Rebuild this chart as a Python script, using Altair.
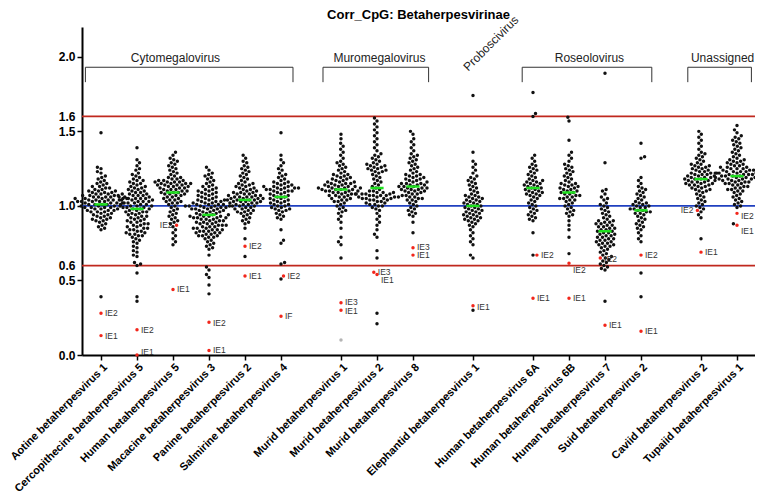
import math
import altair as alt
import pandas as pd

# ---------------- data ----------------
categories = [
    "Aotine betaherpesvirus 1", "Cercopithecine betaherpesvirus 5", "Human betaherpesvirus 5",
    "Macacine betaherpesvirus 3", "Panine betaherpesvirus 2", "Salmirine betaherpesvirus 4",
    "Murid betaherpesvirus 1", "Murid betaherpesvirus 2", "Murid betaherpesvirus 8",
    "Elephantid betaherpesvirus 1",
    "Human betaherpesvirus 6A", "Human betaherpesvirus 6B", "Human betaherpesvirus 7", "Suid betaherpesvirus 2",
    "Caviid betaherpesvirus 2", "Tupaiid betaherpesvirus 1",
]
group_of = [0, 0, 0, 0, 0, 0, 1, 1, 1, 2, 3, 3, 3, 3, 4, 4]
medians = [1.01, 0.98, 1.09, 0.94, 1.04, 1.06, 1.11, 1.12, 1.13, 1.00, 1.12, 1.09, 0.83, 0.97, 1.18, 1.20]

aotine_1 = [1.49, 1.26, 1.25, 1.23, 1.22, 1.20, 1.19, 1.18, 1.17, 1.16, 1.15, 1.15, 1.14, 1.13, 1.13, 1.12, 1.12,
            1.11, 1.11, 1.10, 1.10, 1.10, 1.09, 1.09, 1.09, 1.08, 1.08, 1.08, 1.07, 1.07, 1.07, 1.07, 1.06, 1.06,
            1.06, 1.06, 1.05, 1.05, 1.05, 1.05, 1.05, 1.04, 1.04, 1.04, 1.04, 1.04, 1.03, 1.03, 1.03, 1.03, 1.03,
            1.02, 1.02, 1.02, 1.02, 1.01, 1.01, 1.01, 1.01, 1.00, 1.00, 1.00, 1.00, 0.99, 0.99, 0.99, 0.99, 0.98,
            0.98, 0.98, 0.97, 0.97, 0.97, 0.96, 0.96, 0.96, 0.95, 0.95, 0.94, 0.94, 0.93, 0.93, 0.92, 0.92, 0.91,
            0.91, 0.90, 0.90, 0.89, 0.88, 0.87, 0.86, 0.85, 0.84, 0.39]
cercopithecine_5 = [1.39, 1.31, 1.29, 1.27, 1.25, 1.24, 1.22, 1.21, 1.20, 1.19, 1.18, 1.17, 1.17, 1.16, 1.15, 1.15,
                    1.14, 1.13, 1.13, 1.12, 1.12, 1.11, 1.11, 1.10, 1.10, 1.09, 1.09, 1.08, 1.08, 1.08, 1.07, 1.07,
                    1.07, 1.06, 1.06, 1.06, 1.05, 1.05, 1.05, 1.05, 1.04, 1.04, 1.04, 1.03, 1.03, 1.03, 1.02, 1.02,
                    1.02, 1.01, 1.01, 1.01, 1.00, 1.00, 1.00, 0.99, 0.99, 0.99, 0.98, 0.98, 0.98, 0.97, 0.97, 0.96,
                    0.96, 0.96, 0.95, 0.95, 0.94, 0.94, 0.93, 0.93, 0.92, 0.92, 0.91, 0.91, 0.90, 0.90, 0.89, 0.89,
                    0.88, 0.88, 0.87, 0.87, 0.86, 0.86, 0.85, 0.85, 0.84, 0.84, 0.83, 0.83, 0.82, 0.82, 0.81, 0.81,
                    0.80, 0.80, 0.79, 0.78, 0.77, 0.76, 0.75, 0.73, 0.72, 0.70, 0.69, 0.67, 0.66, 0.62, 0.61, 0.60,
                    0.55, 0.39, 0.36]
human_5 = [1.36, 1.34, 1.32, 1.31, 1.30, 1.29, 1.28, 1.27, 1.26, 1.25, 1.24, 1.23, 1.22, 1.21, 1.20, 1.19, 1.19,
           1.18, 1.18, 1.17, 1.17, 1.17, 1.16, 1.16, 1.16, 1.16, 1.15, 1.15, 1.15, 1.15, 1.14, 1.14, 1.14, 1.14,
           1.13, 1.13, 1.13, 1.12, 1.12, 1.12, 1.11, 1.11, 1.11, 1.10, 1.10, 1.10, 1.09, 1.09, 1.09, 1.08, 1.08,
           1.08, 1.07, 1.07, 1.06, 1.06, 1.05, 1.05, 1.04, 1.04, 1.03, 1.03, 1.02, 1.02, 1.01, 1.00, 0.99, 0.98,
           0.97, 0.96, 0.95, 0.94, 0.93, 0.92, 0.91, 0.90, 0.89, 0.88, 0.86, 0.84, 0.82, 0.80, 0.78, 0.76, 0.74]
macacine_3 = [1.26, 1.24, 1.22, 1.21, 1.20, 1.19, 1.18, 1.17, 1.16, 1.15, 1.14, 1.13, 1.13, 1.12, 1.11, 1.11, 1.10,
              1.10, 1.09, 1.09, 1.08, 1.08, 1.07, 1.07, 1.06, 1.06, 1.05, 1.05, 1.04, 1.04, 1.04, 1.03, 1.03, 1.03,
              1.02, 1.02, 1.02, 1.01, 1.01, 1.01, 1.01, 1.00, 1.00, 1.00, 1.00, 1.00, 0.99, 0.99, 0.99, 0.99, 0.98,
              0.98, 0.98, 0.98, 0.97, 0.97, 0.97, 0.96, 0.96, 0.96, 0.95, 0.95, 0.95, 0.94, 0.94, 0.94, 0.93, 0.93,
              0.93, 0.93, 0.92, 0.92, 0.92, 0.92, 0.91, 0.91, 0.91, 0.90, 0.90, 0.90, 0.89, 0.89, 0.89, 0.88, 0.88,
              0.88, 0.87, 0.87, 0.87, 0.86, 0.86, 0.86, 0.85, 0.85, 0.85, 0.84, 0.84, 0.84, 0.83, 0.83, 0.83, 0.82,
              0.82, 0.82, 0.81, 0.81, 0.80, 0.80, 0.80, 0.79, 0.79, 0.78, 0.77, 0.76, 0.75, 0.74, 0.73, 0.72, 0.71,
              0.67, 0.59, 0.57, 0.54, 0.52, 0.47, 0.41]
panine_2 = [1.34, 1.32, 1.30, 1.29, 1.27, 1.26, 1.25, 1.24, 1.23, 1.22, 1.21, 1.20, 1.19, 1.18, 1.17, 1.16, 1.15,
            1.15, 1.14, 1.14, 1.13, 1.13, 1.12, 1.12, 1.11, 1.11, 1.10, 1.10, 1.09, 1.09, 1.09, 1.08, 1.08, 1.08,
            1.07, 1.07, 1.07, 1.06, 1.06, 1.06, 1.06, 1.05, 1.05, 1.05, 1.05, 1.04, 1.04, 1.04, 1.04, 1.03, 1.03,
            1.03, 1.03, 1.02, 1.02, 1.02, 1.01, 1.01, 1.01, 1.00, 1.00, 1.00, 0.99, 0.99, 0.98, 0.98, 0.97, 0.97,
            0.96, 0.96, 0.95, 0.95, 0.94, 0.93, 0.92, 0.91, 0.90, 0.89, 0.88, 0.85, 0.78, 0.66]
salmirine_4 = [1.49, 1.34, 1.31, 1.29, 1.27, 1.25, 1.24, 1.22, 1.21, 1.20, 1.19, 1.18, 1.17, 1.16, 1.16, 1.15, 1.15,
               1.14, 1.14, 1.13, 1.13, 1.13, 1.12, 1.12, 1.12, 1.12, 1.11, 1.11, 1.11, 1.10, 1.10, 1.10, 1.09, 1.09,
               1.08, 1.08, 1.07, 1.07, 1.06, 1.06, 1.05, 1.05, 1.04, 1.04, 1.03, 1.03, 1.02, 1.02, 1.01, 1.01, 1.00,
               1.00, 0.99, 0.99, 0.98, 0.98, 0.97, 0.97, 0.96, 0.95, 0.94, 0.93, 0.92, 0.91, 0.84, 0.77, 0.75, 0.62,
               0.61, 0.51]
murid_1 = [1.48, 1.45, 1.42, 1.40, 1.38, 1.36, 1.34, 1.32, 1.30, 1.29, 1.28, 1.27, 1.26, 1.25, 1.24, 1.23, 1.22,
           1.21, 1.21, 1.20, 1.20, 1.19, 1.19, 1.18, 1.18, 1.17, 1.17, 1.16, 1.16, 1.16, 1.15, 1.15, 1.15, 1.14,
           1.14, 1.14, 1.13, 1.13, 1.13, 1.13, 1.12, 1.12, 1.12, 1.12, 1.11, 1.11, 1.11, 1.11, 1.10, 1.10, 1.10,
           1.10, 1.09, 1.09, 1.09, 1.08, 1.08, 1.08, 1.07, 1.07, 1.07, 1.06, 1.06, 1.05, 1.05, 1.04, 1.04, 1.03,
           1.03, 1.02, 1.01, 1.00, 0.99, 0.98, 0.97, 0.96, 0.95, 0.93, 0.91, 0.89, 0.85, 0.79, 0.76, 0.74, 0.65]
murid_2 = [1.59, 1.57, 1.55, 1.53, 1.51, 1.49, 1.47, 1.45, 1.43, 1.41, 1.39, 1.37, 1.35, 1.34, 1.33, 1.32, 1.31,
           1.30, 1.29, 1.28, 1.28, 1.27, 1.27, 1.26, 1.26, 1.25, 1.25, 1.24, 1.24, 1.23, 1.23, 1.22, 1.21, 1.20,
           1.19, 1.18, 1.17, 1.16, 1.15, 1.14, 1.13, 1.12, 1.11, 1.10, 1.10, 1.09, 1.09, 1.09, 1.08, 1.08, 1.08,
           1.08, 1.07, 1.07, 1.07, 1.07, 1.06, 1.06, 1.06, 1.06, 1.05, 1.05, 1.05, 1.05, 1.04, 1.04, 1.04, 1.03,
           1.03, 1.02, 1.02, 1.01, 1.01, 1.00, 1.00, 0.99, 0.98, 0.97, 0.95, 0.93, 0.91, 0.89, 0.87, 0.84, 0.81,
           0.79, 0.70, 0.65, 0.28, 0.21]
murid_8 = [1.50, 1.48, 1.45, 1.43, 1.41, 1.39, 1.37, 1.35, 1.34, 1.33, 1.32, 1.31, 1.30, 1.29, 1.28, 1.27, 1.26,
           1.25, 1.24, 1.23, 1.22, 1.21, 1.21, 1.20, 1.20, 1.19, 1.19, 1.18, 1.18, 1.17, 1.17, 1.16, 1.16, 1.15,
           1.15, 1.15, 1.14, 1.14, 1.14, 1.13, 1.13, 1.13, 1.12, 1.12, 1.12, 1.11, 1.11, 1.11, 1.10, 1.10, 1.10,
           1.09, 1.09, 1.08, 1.08, 1.07, 1.07, 1.06, 1.06, 1.05, 1.05, 1.04, 1.04, 1.03, 1.02, 1.01, 1.00, 0.99,
           0.98, 0.97, 0.96, 0.95, 0.94, 0.93, 0.89, 0.82]
elephantid_1 = [1.74, 1.36, 1.30, 1.28, 1.26, 1.24, 1.22, 1.20, 1.19, 1.18, 1.17, 1.16, 1.15, 1.14, 1.13, 1.12, 1.11,
                1.10, 1.09, 1.08, 1.07, 1.07, 1.06, 1.06, 1.05, 1.05, 1.04, 1.04, 1.03, 1.03, 1.02, 1.02, 1.01,
                1.01, 1.00, 1.00, 0.99, 0.99, 0.98, 0.98, 0.97, 0.97, 0.96, 0.96, 0.95, 0.95, 0.94, 0.94, 0.93,
                0.93, 0.92, 0.92, 0.91, 0.91, 0.90, 0.90, 0.89, 0.88, 0.87, 0.86, 0.84, 0.82, 0.80, 0.78, 0.76,
                0.74, 0.67, 0.65, 0.30]
human_6a = [1.76, 1.62, 1.60, 1.34, 1.32, 1.30, 1.28, 1.27, 1.26, 1.25, 1.24, 1.23, 1.22, 1.21, 1.20, 1.19, 1.18,
            1.17, 1.17, 1.16, 1.16, 1.15, 1.15, 1.14, 1.14, 1.13, 1.13, 1.12, 1.12, 1.11, 1.11, 1.10, 1.10, 1.09,
            1.09, 1.08, 1.08, 1.07, 1.07, 1.06, 1.05, 1.04, 1.03, 1.02, 1.01, 1.00, 0.99, 0.98, 0.97, 0.96, 0.95,
            0.94, 0.93, 0.92, 0.91, 0.90, 0.82, 0.67]
human_6b = [1.595, 1.57, 1.44, 1.36, 1.34, 1.32, 1.30, 1.28, 1.27, 1.26, 1.25, 1.24, 1.23, 1.22, 1.21, 1.20, 1.19,
            1.18, 1.17, 1.16, 1.15, 1.15, 1.14, 1.14, 1.13, 1.13, 1.12, 1.12, 1.11, 1.11, 1.10, 1.10, 1.09, 1.09,
            1.08, 1.08, 1.07, 1.07, 1.06, 1.06, 1.05, 1.05, 1.04, 1.04, 1.03, 1.02, 1.01, 1.00, 0.99, 0.98, 0.97,
            0.96, 0.95, 0.94, 0.93, 0.90, 0.87, 0.84, 0.79, 0.68]
human_7 = [1.89, 1.29, 1.11, 1.10, 1.08, 1.06, 1.05, 1.04, 1.02, 1.01, 1.00, 0.99, 0.98, 0.97, 0.96, 0.95, 0.94,
           0.93, 0.92, 0.91, 0.90, 0.90, 0.89, 0.89, 0.88, 0.88, 0.87, 0.87, 0.86, 0.86, 0.85, 0.85, 0.84, 0.84,
           0.83, 0.83, 0.82, 0.82, 0.81, 0.81, 0.80, 0.80, 0.79, 0.79, 0.78, 0.78, 0.77, 0.77, 0.76, 0.76, 0.75,
           0.75, 0.74, 0.74, 0.73, 0.73, 0.72, 0.71, 0.70, 0.69, 0.68, 0.67, 0.66, 0.65, 0.64, 0.63, 0.62, 0.61,
           0.60, 0.59, 0.58, 0.57, 0.36]
suid_2 = [1.42, 1.33, 1.32, 1.19, 1.17, 1.15, 1.13, 1.12, 1.11, 1.10, 1.09, 1.08, 1.07, 1.06, 1.05, 1.04, 1.03,
          1.02, 1.02, 1.01, 1.01, 1.00, 1.00, 0.99, 0.99, 0.98, 0.98, 0.97, 0.97, 0.96, 0.96, 0.95, 0.95, 0.94,
          0.93, 0.92, 0.91, 0.90, 0.89, 0.88, 0.87, 0.86, 0.85, 0.84, 0.82, 0.80, 0.78, 0.76, 0.55, 0.39]
caviid_2 = [1.50, 1.48, 1.46, 1.44, 1.42, 1.40, 1.38, 1.36, 1.35, 1.34, 1.33, 1.32, 1.31, 1.30, 1.29, 1.28, 1.28,
            1.27, 1.27, 1.26, 1.26, 1.25, 1.25, 1.24, 1.24, 1.23, 1.23, 1.22, 1.22, 1.22, 1.21, 1.21, 1.21, 1.20,
            1.20, 1.20, 1.19, 1.19, 1.19, 1.18, 1.18, 1.18, 1.17, 1.17, 1.17, 1.16, 1.16, 1.16, 1.15, 1.15, 1.15,
            1.14, 1.14, 1.14, 1.13, 1.13, 1.12, 1.12, 1.11, 1.11, 1.10, 1.10, 1.09, 1.08, 1.07, 1.06, 1.05, 1.04,
            1.03, 1.02, 1.01, 1.00, 0.99, 0.98, 0.96, 0.94, 0.92, 0.78]
tupaiid_1 = [1.54, 1.51, 1.49, 1.47, 1.46, 1.45, 1.44, 1.43, 1.42, 1.41, 1.40, 1.39, 1.38, 1.37, 1.36, 1.35, 1.34,
             1.33, 1.32, 1.31, 1.31, 1.30, 1.30, 1.29, 1.29, 1.28, 1.28, 1.27, 1.27, 1.26, 1.26, 1.26, 1.25, 1.25,
             1.25, 1.24, 1.24, 1.24, 1.23, 1.23, 1.23, 1.23, 1.22, 1.22, 1.22, 1.22, 1.21, 1.21, 1.21, 1.21, 1.20,
             1.20, 1.20, 1.20, 1.19, 1.19, 1.19, 1.19, 1.18, 1.18, 1.18, 1.18, 1.17, 1.17, 1.17, 1.16, 1.16, 1.16,
             1.15, 1.15, 1.15, 1.14, 1.14, 1.13, 1.13, 1.12, 1.12, 1.11, 1.11, 1.10, 1.10, 1.09, 1.08, 1.07, 1.06,
             1.05, 1.04, 1.03, 1.02, 1.01, 1.00, 0.99, 0.88]

black_values = [aotine_1, cercopithecine_5, human_5, macacine_3, panine_2, salmirine_4, murid_1, murid_2, murid_8,
                elephantid_1, human_6a, human_6b, human_7, suid_2, caviid_2, tupaiid_1]

# highlighted (red) genes: category index, value, label, label height, label side
red_cat = [0, 0, 1, 1, 2, 2, 3, 3, 4, 4, 5, 5, 6, 6, 7, 7, 8, 8, 9, 10, 10, 11, 11, 12, 12, 13, 13, 14, 14, 15, 15]
red_value = [0.28, 0.13, 0.17, 0.00, 0.87, 0.44, 0.22, 0.03, 0.73, 0.53, 0.53, 0.26, 0.35, 0.30, 0.555, 0.54,
             0.72, 0.67, 0.33, 0.67, 0.38, 0.615, 0.38, 0.65, 0.20, 0.67, 0.16, 0.97, 0.69, 0.95, 0.87]
red_label = ["IE2", "IE1", "IE2", "IE1", "IE2", "IE1", "IE2", "IE1", "IE2", "IE1", "IE2", "IF", "IE3", "IE1",
             "IE3", "IE1", "IE3", "IE1", "IE1", "IE2", "IE1", "IE2", "IE1", "IE2", "IE1", "IE2", "IE1", "IE2",
             "IE1", "IE2", "IE1"]
red_label_value = [0.28, 0.13, 0.165, 0.02, 0.87, 0.44, 0.215, 0.035, 0.73, 0.53, 0.53, 0.26, 0.355, 0.297,
                   0.557, 0.50, 0.725, 0.668, 0.32, 0.67, 0.38, 0.57, 0.38, 0.645, 0.20, 0.67, 0.16, 0.97, 0.69,
                   0.935, 0.83]
red_side = ["r", "r", "r", "r", "l", "r", "r", "r", "r", "r", "r", "r", "r", "r", "r", "r", "r", "r", "r", "r",
            "r", "r", "r", "r", "r", "r", "r", "l", "r", "r", "r"]

gray_cat = [6]
gray_value = [0.10]

reference_lines = [0.6, 1.0, 1.6]
reference_colors = ["#c0281e", "#1f3fbf", "#c0281e"]

group_names = ["Cytomegalovirus", "Muromegalovirus", "Roseolovirus", "Unassigned"]
group_start = [-1.3, 18.5, 35.1, 48.9]
group_end = [16.0, 27.3, 45.9, 54.2]
group_label_x = [6.2, 23.2, 40.7, 51.8]
single_group = "Proboscivirus"

y_ticks = [0.0, 0.5, 0.6, 1.0, 1.5, 1.6, 2.0]

# ---------------- layout helpers ----------------
W, H = 673, 328
X_DOMAIN = [-1.583, 54.5]
Y_DOMAIN = [0.0, 2.2]
PXU = W / (X_DOMAIN[1] - X_DOMAIN[0])
PYU = H / (Y_DOMAIN[1] - Y_DOMAIN[0])
DOT = 3.9

positions = [3 * i + 2 * g for i, g in enumerate(group_of)]


def swarm(vals):
    order = sorted(range(len(vals)), key=lambda k: vals[k])
    placed = []
    offs = [0.0] * len(vals)
    for n, k in enumerate(order):
        yk = vals[k] * PYU
        near = [(px, py) for px, py in placed if abs(py - yk) < DOT]
        cands = [0.0]
        for px, py in near:
            dx = math.sqrt(max(DOT * DOT - (py - yk) ** 2, 0.0))
            cands += [px + dx, px - dx]
        sign = 1 if n % 2 == 0 else -1
        cands.sort(key=lambda c: (round(abs(c), 4), -sign * c))
        for c in cands:
            if all((c - px) ** 2 + (yk - py) ** 2 >= DOT * DOT - 1e-6 for px, py in near):
                offs[k] = c
                break
        placed.append((offs[k], yk))
    return offs


rows = []
for ci in range(len(categories)):
    pts = [(v, "black", "", 0.0, "r") for v in black_values[ci]]
    pts += [(red_value[j], "red", red_label[j], red_label_value[j], red_side[j])
            for j in range(len(red_cat)) if red_cat[j] == ci]
    pts += [(gray_value[j], "gray", "", 0.0, "r") for j in range(len(gray_cat)) if gray_cat[j] == ci]
    offs = swarm([p[0] for p in pts])
    for p, o in zip(pts, offs):
        rows.append({"x": positions[ci] + o / PXU, "y": p[0], "kind": p[1], "label": p[2],
                     "ly": p[3], "side": p[4]})
df = pd.DataFrame(rows)
df_black = df[df.kind != "red"]
df_red = df[df.kind == "red"]

df_med = pd.DataFrame({"x": [p - 0.55 for p in positions], "x2": [p + 0.55 for p in positions], "y": medians})
df_lines = pd.DataFrame({"y": reference_lines, "c": [str(i) for i in range(3)]})
df_groups = pd.DataFrame({"name": group_names, "s": group_start, "e": group_end, "m": group_label_x})
df_ticks = pd.DataFrame({"x": group_start + group_end})

names_by_pos = [""] * (max(positions) + 1)
for p, n in zip(positions, categories):
    names_by_pos[p] = n
label_expr = "[" + ",".join("'" + n + "'" for n in names_by_pos) + "][datum.value]"

FONT = "Liberation Sans"
x_scale = alt.Scale(domain=X_DOMAIN, nice=False, zero=False)
y_scale = alt.Scale(domain=Y_DOMAIN, nice=False)
x_axis = alt.Axis(values=positions, labelExpr=label_expr, labelAngle=315, labelAlign="right",
                  labelBaseline="top", labelFont=FONT, labelFontSize=11, labelFontWeight="bold",
                  labelColor="black", labelOverlap=False, labelFlush=False, labelLimit=0, labelPadding=1,
                  tickSize=5, tickWidth=1.5, tickColor="black", domainColor="black", domainWidth=2, grid=False,
                  title=None)
y_axis = alt.Axis(values=y_ticks, format=".1f", labelFont=FONT, labelFontSize=12, labelFontWeight="bold",
                  labelColor="black", labelOverlap=False, labelFlush=False, labelPadding=2, tickSize=5,
                  tickWidth=1.5,
                  tickColor={"condition": {"test": "datum.value == 0.6 || datum.value == 1.6",
                                           "value": "transparent"}, "value": "black"},
                  domainColor="black", domainWidth=2, grid=False, title=None)


def X(field):
    return alt.X(field, type="quantitative", scale=x_scale, axis=x_axis)


def Y(field):
    return alt.Y(field, type="quantitative", scale=y_scale, axis=y_axis)


lines = alt.Chart(df_lines).mark_rule(strokeWidth=1.8).encode(
    y=Y("y"),
    color=alt.Color("c:N", scale=alt.Scale(domain=["0", "1", "2"], range=reference_colors), legend=None),
)
black_pts = alt.Chart(df_black).mark_circle(size=12, opacity=1).encode(
    x=X("x"), y=Y("y"),
    color=alt.Color("kind:N", scale=alt.Scale(domain=["black", "gray"], range=["#111111", "#b4b4b4"]),
                    legend=None),
)
red_pts = alt.Chart(df_red).mark_circle(size=12, opacity=1, color="#f2261b").encode(x=X("x"), y=Y("y"))
med = alt.Chart(df_med).mark_rule(color="#1fe01f", strokeWidth=2.5).encode(x=X("x"), x2="x2", y=Y("y"))
lab_r = alt.Chart(df_red[df_red.side == "r"]).mark_text(
    align="left", baseline="middle", dx=4, font=FONT, fontSize=8.5, color="#333333"
).encode(x=X("x"), y=Y("ly"), text="label:N")
lab_l = alt.Chart(df_red[df_red.side == "l"]).mark_text(
    align="right", baseline="middle", dx=-4, font=FONT, fontSize=8.5, color="#333333"
).encode(x=X("x"), y=Y("ly"), text="label:N")

BR_Y, BR_LOW, BR_TXT = 1.93, 1.83, 1.965
br_h = alt.Chart(df_groups).mark_rule(color="#333333", strokeWidth=1).encode(
    x=X("s"), x2="e", y=alt.YDatum(BR_Y, scale=y_scale, axis=y_axis))
br_v = alt.Chart(df_ticks).mark_rule(color="#333333", strokeWidth=1).encode(
    x=X("x"), y=alt.YDatum(BR_LOW, scale=y_scale, axis=y_axis), y2=alt.Y2Datum(BR_Y))
br_t = alt.Chart(df_groups).mark_text(
    align="center", baseline="alphabetic", font=FONT, fontSize=12, color="#222222"
).encode(x=X("m"), y=alt.YDatum(BR_TXT, scale=y_scale, axis=y_axis), text="name:N")
probo = alt.Chart(pd.DataFrame({"t": [single_group], "x": [positions[9] - 0.4], "y": [1.9]})).mark_text(
    align="left", baseline="alphabetic", angle=315, font=FONT, fontSize=12, color="#222222"
).encode(x=X("x"), y=Y("y"), text="t:N")

chart = alt.layer(lines, black_pts, red_pts, med, lab_r, lab_l, br_h, br_v, br_t, probo).resolve_scale(
    color="independent"
).properties(
    width=W, height=H,
    autosize=alt.AutoSizeParams(type="none"),
    padding={"left": 74, "top": 19, "right": 0, "bottom": 136},
    title=alt.Title("Corr_CpG: Betaherpesvirinae", font=FONT, fontSize=13, fontWeight="bold",
                    color="black", anchor="middle", offset=6, dy=14),
).configure_view(stroke=None)

chart.save("out.html", embed_options={"renderer": "svg", "actions": False})
